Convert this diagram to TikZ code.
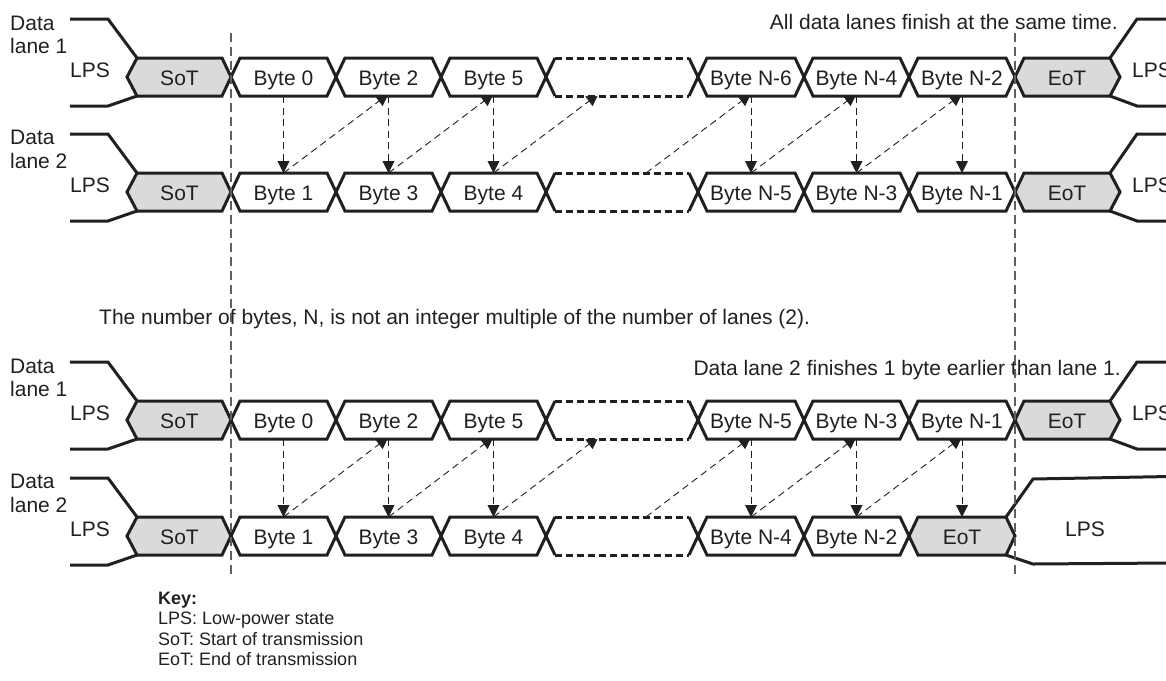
\documentclass[tikz,border=0pt]{standalone}
\usepackage{fontspec}
\setmainfont{Liberation Sans}
\usetikzlibrary{arrows.meta,backgrounds}
\definecolor{boxgray}{RGB}{218,218,218}
\definecolor{ink}{RGB}{35,31,32}
\definecolor{guidegray}{RGB}{95,95,95}
\newcommand\busseg[6]{% #1=a #2=b #3=c #4=style #5=name #6=text
  \draw[#4] (#1,#3) -- ({#1+9},{#3-19}) -- ({#2-9},{#3-19}) -- (#2,#3) -- ({#2-9},{#3+19}) -- ({#1+9},{#3+19}) -- cycle;
  \node[lbl] (#5) at ({(#1+#2)/2},{#3+8}) {#6};
  \coordinate (#5-t) at ({(#1+#2)/2},{#3-19});
  \coordinate (#5-b) at ({(#1+#2)/2},{#3+19});
}
\newcommand\laneleft[2]{% #1=c #2=prefix
  \draw[busline] (70,{#1-58}) -- (108,{#1-58}) -- (137,{#1-19});
  \draw[busline] (70,{#1+29}) -- (108,{#1+29}) -- (137,{#1+19});
  \node[side] (#2lps) at (70,#1) {LPS};
  \draw[gseg] (127,#1) -- (137,{#1-19}) -- (222,{#1-19}) -- (231,#1) -- (222,{#1+19}) -- (137,{#1+19}) -- cycle;
  \node[lbl] (#2sot) at (179.5,{#1+8}) {SoT};
}
\newcommand\laneright[2]{% #1=c #2=prefix
  \draw[gseg] (1015,#1) -- (1024,{#1-19}) -- (1110,{#1-19}) -- (1120,#1) -- (1110,{#1+19}) -- (1024,{#1+19}) -- cycle;
  \node[lbl] (#2eot) at (1067,{#1+8}) {EoT};
  \draw[busline] (1110,{#1-19}) -- (1137,{#1-58}) -- (1170,{#1-58});
  \draw[busline] (1110,{#1+19}) -- (1137,{#1+29}) -- (1170,{#1+29});
  \node[side] (#2lpsr) at (1132,#1) {LPS};
}
\newcommand\gapseg[2]{% #1=c #2=prefix
  \fill[white] (546,#1) -- (555,{#1-19}) -- (689,{#1-19}) -- (698,#1) -- (689,{#1+19}) -- (555,{#1+19}) -- cycle;
  \draw[busline] (555,{#1-19}) -- (546,#1) -- (555,{#1+19});
  \draw[busline] (689,{#1-19}) -- (698,#1) -- (689,{#1+19});
  \draw[dline] (555,{#1-19}) -- (689,{#1-19});
  \draw[dline] (555,{#1+19}) -- (689,{#1+19});
  \coordinate (#2gap-t) at (646,{#1-19});
  \coordinate (#2gap-b) at (598.5,{#1+19});
}
\begin{document}
\begin{tikzpicture}[x=1pt,y=-1pt,
  busline/.style={draw=ink,line width=3pt,line join=miter,line cap=butt},
  wseg/.style={busline,fill=white},
  gseg/.style={busline,fill=boxgray},
  dline/.style={draw=ink,line width=3pt,dash pattern=on 7pt off 4pt},
  lbl/.style={font=\fontsize{21}{24}\selectfont,text=ink,inner sep=0pt,anchor=base},
  side/.style={font=\fontsize{21}{24}\selectfont,text=ink,inner sep=0pt,anchor=base west},
  note/.style={font=\fontsize{21}{24}\selectfont,text=ink,inner sep=0pt},
  keytxt/.style={font=\fontsize{18}{20}\selectfont,text=ink,inner sep=0pt,anchor=base west},
  arr/.style={draw=ink,line width=0.9pt,dash pattern=on 7pt off 4.5pt,-{Triangle[length=12pt,width=12pt]}},
  guide/.style={draw=guidegray,line width=1.1pt,dash pattern=on 9pt off 5pt},
]
\useasboundingbox (0,0) rectangle (1166,680);
\clip (0,0) rectangle (1166,680);

% ---------- lane labels ----------
\node[side] (dA) at (10,30) {Data};   \node[side] (lA) at (10,53) {lane 1};
\node[side] (dB) at (10,144) {Data};  \node[side] (lB) at (10,168) {lane 2};
\node[side] (dC) at (10,373) {Data};  \node[side] (lC) at (10,396) {lane 1};
\node[side] (dD) at (10,488) {Data};  \node[side] (lD) at (10,512) {lane 2};

% ---------- top group ----------
\laneleft{77}{A}
\busseg{231}{336}{77}{wseg}{a1}{Byte 0}
\busseg{336}{441}{77}{wseg}{a2}{Byte 2}
\busseg{441}{546}{77}{wseg}{a3}{Byte 5}
\gapseg{77}{A}
\busseg{698}{804}{77}{wseg}{a4}{Byte N-6}
\busseg{804}{909}{77}{wseg}{a5}{Byte N-4}
\busseg{909}{1015}{77}{wseg}{a6}{Byte N-2}
\laneright{77}{A}
\laneleft{192}{B}
\busseg{231}{336}{192}{wseg}{b1}{Byte 1}
\busseg{336}{441}{192}{wseg}{b2}{Byte 3}
\busseg{441}{546}{192}{wseg}{b3}{Byte 4}
\gapseg{192}{B}
\busseg{698}{804}{192}{wseg}{b4}{Byte N-5}
\busseg{804}{909}{192}{wseg}{b5}{Byte N-3}
\busseg{909}{1015}{192}{wseg}{b6}{Byte N-1}
\laneright{192}{B}

% ---------- bottom group ----------
\laneleft{420}{C}
\busseg{231}{336}{420}{wseg}{c1}{Byte 0}
\busseg{336}{441}{420}{wseg}{c2}{Byte 2}
\busseg{441}{546}{420}{wseg}{c3}{Byte 5}
\gapseg{420}{C}
\busseg{698}{804}{420}{wseg}{c4}{Byte N-5}
\busseg{804}{909}{420}{wseg}{c5}{Byte N-3}
\busseg{909}{1015}{420}{wseg}{c6}{Byte N-1}
\laneright{420}{C}
\laneleft{536}{D}
\busseg{231}{336}{536}{wseg}{d1}{Byte 1}
\busseg{336}{441}{536}{wseg}{d2}{Byte 3}
\busseg{441}{546}{536}{wseg}{d3}{Byte 4}
\gapseg{536}{D}
\busseg{698}{804}{536}{wseg}{d4}{Byte N-4}
\busseg{804}{909}{536}{wseg}{d5}{Byte N-2}
\busseg{909}{1015}{536}{gseg}{d6}{EoT}
\draw[busline] (1006,517) -- (1033,479) -- (1170,476.5);
\draw[busline] (1006,555) -- (1033,564) -- (1170,563);
\node[lbl] (Dlpsr) at (1085,536) {LPS};

% ---------- arrows (behind the bus segments) ----------
\begin{pgfonlayer}{background}
\draw[arr] (a1-b) -- (b1-t);
\draw[arr] (b1-t) -- ([yshift=2pt]a2-b);
\draw[arr] (a2-b) -- (b2-t);
\draw[arr] (b2-t) -- ([yshift=2pt]a3-b);
\draw[arr] (a3-b) -- (b3-t);
\draw[arr] (b3-t) -- ([yshift=2pt]Agap-b);
\draw[arr] (Bgap-t) -- ([yshift=2pt]a4-b);
\draw[arr] (a4-b) -- (b4-t);
\draw[arr] (b4-t) -- ([yshift=2pt]a5-b);
\draw[arr] (a5-b) -- (b5-t);
\draw[arr] (b5-t) -- ([yshift=2pt]a6-b);
\draw[arr] (a6-b) -- (b6-t);
\draw[arr] (c1-b) -- (d1-t);
\draw[arr] (d1-t) -- ([yshift=2pt]c2-b);
\draw[arr] (c2-b) -- (d2-t);
\draw[arr] (d2-t) -- ([yshift=2pt]c3-b);
\draw[arr] (c3-b) -- (d3-t);
\draw[arr] (d3-t) -- ([yshift=2pt]Cgap-b);
\draw[arr] (Dgap-t) -- ([yshift=2pt]c4-b);
\draw[arr] (c4-b) -- (d4-t);
\draw[arr] (d4-t) -- ([yshift=2pt]c5-b);
\draw[arr] (c5-b) -- (d5-t);
\draw[arr] (d5-t) -- ([yshift=2pt]c6-b);
\draw[arr] (c6-b) -- (d6-t);
\end{pgfonlayer}

% ---------- notes ----------
\node[note,anchor=base east] (n1) at (1118,29) {All data lanes finish at the same time.};
\node[note,anchor=base west] (n2) at (99,324) {The number of bytes, N, is not an integer multiple of the number of lanes (2).};
\node[note,anchor=base east] (n3) at (1121,375) {Data lane 2 finishes 1 byte earlier than lane 1.};

% ---------- key ----------
\node[keytxt,font=\fontsize{18}{20}\selectfont\bfseries] (k0) at (158,604) {Key:};
\node[keytxt] (k1) at (158,624.5) {LPS: Low-power state};
\node[keytxt] (k2) at (158,645) {SoT: Start of transmission};
\node[keytxt] (k3) at (158,665.5) {EoT: End of transmission};

% ---------- guide lines ----------
\coordinate (g1t) at (231,33); \coordinate (g1b) at (231,575);
\coordinate (g2t) at (1015,33); \coordinate (g2b) at (1015,575);
\draw[guide] (g1t) -- (g1b);
\draw[guide] (g2t) -- (g2b);
\end{tikzpicture}
\end{document}
